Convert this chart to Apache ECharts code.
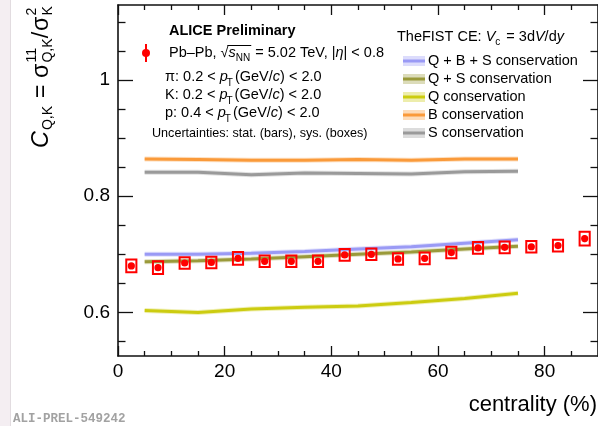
<!DOCTYPE html>
<html>
<head>
<meta charset="utf-8">
<script src="https://cdn.jsdelivr.net/npm/echarts@6/dist/echarts.min.js"></script>
<style>
  html, body { margin: 0; padding: 0; background: #fff; }
  #chart { width: 598px; height: 426px; }
</style>
</head>
<body>
<div id="chart"></div>
<script>
// ---- data ----
const centrality = [2.5, 7.5, 12.5, 17.5, 22.5, 27.5, 32.5, 37.5, 42.5, 47.5, 52.5, 57.5, 62.5, 67.5, 72.5, 77.5, 82.5, 87.5];
const cValues    = [0.680, 0.677, 0.685, 0.686, 0.693, 0.688, 0.688, 0.688, 0.699, 0.700, 0.692, 0.693, 0.703, 0.711, 0.712, 0.713, 0.715, 0.727];
const statErr    = [0.005, 0.005, 0.004, 0.004, 0.004, 0.004, 0.004, 0.004, 0.004, 0.004, 0.004, 0.004, 0.004, 0.004, 0.004, 0.004, 0.005, 0.006];
const sysErr     = [0.011, 0.011, 0.010, 0.010, 0.011, 0.010, 0.010, 0.010, 0.010, 0.010, 0.010, 0.010, 0.010, 0.010, 0.010, 0.010, 0.010, 0.012];

const modelCentrality = [5, 15, 25, 35, 45, 55, 65, 75];
const qbsValues = [0.700, 0.700, 0.702, 0.705, 0.709, 0.713, 0.719, 0.725];
const qsValues  = [0.687, 0.689, 0.692, 0.696, 0.700, 0.704, 0.709, 0.714];
const qValues   = [0.6035, 0.600, 0.606, 0.609, 0.611, 0.617, 0.624, 0.633];
const bValues   = [0.864, 0.863, 0.862, 0.862, 0.863, 0.862, 0.864, 0.864];
const sValues   = [0.841, 0.841, 0.837, 0.840, 0.839, 0.838, 0.842, 0.843];

const modelNames  = ['Q + B + S conservation', 'Q + S conservation', 'Q conservation', 'B conservation', 'S conservation'];
const modelColors = ['#9a9af5', '#9a9a3a', '#cccc10', '#fa9a3a', '#9a9a9a'];
const modelSeries = [qbsValues, qsValues, qValues, bValues, sValues];

const xMajorTicks = [0, 20, 40, 60, 80];
const xMinorTicks = [5, 10, 15, 25, 30, 35, 45, 50, 55, 65, 70, 75, 85];
const yMajorTicks = [0.6, 0.8, 1];
const yMinorTicks = [0.55, 0.65, 0.7, 0.75, 0.85, 0.9, 0.95, 1.05, 1.1];

// ---- text helpers ----
const FONT = '"Liberation Sans", Arial, Helvetica, sans-serif';
const mctx = document.createElement('canvas').getContext('2d');
function fontStr(size, italic, bold) {
  return (italic ? 'italic ' : '') + (bold ? 'bold ' : '') + size + 'px ' + FONT;
}
function textWidth(t, size, italic, bold) {
  mctx.font = fontStr(size, italic, bold);
  return mctx.measureText(t).width;
}
// place a text so that its alphabetic baseline sits at `base`
function textEl(t, x, base, size, italic, bold, color) {
  return {
    type: 'text', x: x, y: base - 0.3465 * size, silent: true,
    style: { text: t, font: fontStr(size, italic, bold), fill: color || '#000', verticalAlign: 'middle', align: 'left' }
  };
}
// lay out a run of text pieces (with sub/superscripts) along a baseline
function layoutRuns(runs, x0, base, color) {
  let x = x0;
  const els = [];
  const marks = [];
  runs.forEach(r => {
    marks.push(x);
    if (r.stack) {
      let w = 0;
      r.stack.forEach(p => {
        els.push(textEl(p.t, x, base + (p.dy || 0), p.s, p.i, p.b, color));
        w = Math.max(w, textWidth(p.t, p.s, p.i, p.b));
      });
      x += w + (r.gap || 0);
    } else {
      els.push(textEl(r.t, x + (r.pre || 0), base + (r.dy || 0), r.s, r.i, r.b, color));
      x += (r.pre || 0) + textWidth(r.t, r.s, r.i, r.b) + (r.gap || 0);
    }
  });
  marks.push(x);
  return { els: els, end: x, marks: marks };
}

// ---- y-axis title: C_{Q,K} = sigma^{11}_{Q,K} / sigma^{2}_{K} ----
function yTitleRuns(F) {
  const S = 0.6 * F;
  const sub = 0.14 * F, sup = -0.55 * F;
  return [
    { t: 'C', s: F, i: true, gap: 0.04 * F },
    { t: 'Q,K', s: S, dy: sub, gap: 0.05 * F },
    { t: ' = ', s: F },
    { t: 'σ', s: F, gap: 0.04 * F },
    { stack: [{ t: '11', s: S, dy: sup }, { t: 'Q,K', s: S, dy: sub }] },
    { t: '/', s: F, gap: 0.04 * F },
    { t: 'σ', s: F, gap: 0.04 * F },
    { stack: [{ t: '2', s: S, dy: sup }, { t: 'K', s: S, dy: sub }] }
  ];
}
const titleLength = 142;
const unitLen = layoutRuns(yTitleRuns(20), 0, 0).end;
const yTitle = layoutRuns(yTitleRuns(20 * titleLength / unitLen), 0, 0);

// ---- ALICE block ----
const LF = 14.5, LS = 10;
const aliceTitle = layoutRuns([{ t: 'ALICE Preliminary', s: LF, b: true }], 169, 36.5);
const systemLine = layoutRuns([
  { t: 'Pb–Pb, ', s: LF },
  { t: '√', s: LF },
  { t: 's', s: LF, i: true },
  { t: 'NN', s: LS, dy: 3.5, gap: 1 },
  { t: ' = 5.02 TeV, |', s: LF },
  { t: 'η', s: LF, i: true },
  { t: '| < 0.8', s: LF }
], 169, 58);
function ptLine(label, lo, base) {
  return layoutRuns([
    { t: label + ': ' + lo + ' < ', s: LF },
    { t: 'p', s: LF, i: true, gap: 0 },
    { t: 'T', s: LS, dy: 5, pre: -1, gap: 2 },
    { t: '(GeV/', s: LF },
    { t: 'c', s: LF, i: true },
    { t: ') < 2.0', s: LF }
  ], 165, base);
}
const piLine = ptLine('π', '0.2', 82);
const kLine = ptLine('K', '0.2', 100);
const pLine = ptLine('p', '0.4', 118);
const uncLine = layoutRuns([{ t: 'Uncertainties: stat. (bars), sys. (boxes)', s: 12.6 }], 152, 137.5);

// ---- model legend ----
const fistTitle = layoutRuns([
  { t: 'TheFIST CE: ', s: LF },
  { t: 'V', s: LF, i: true },
  { t: 'c', s: LS, dy: 3.5, gap: 2 },
  { t: ' = 3d', s: LF },
  { t: 'V', s: LF, i: true },
  { t: '/d', s: LF },
  { t: 'y', s: LF, i: true }
], 397, 42);

const graphics = [];
// left page strip
graphics.push({ type: 'rect', shape: { x: 0, y: 0, width: 10, height: 426 }, style: { fill: '#f4eef2' }, silent: true });
graphics.push({ type: 'line', shape: { x1: 10.5, y1: 0, x2: 10.5, y2: 426 }, style: { stroke: '#e2dce0', lineWidth: 1 }, silent: true });

graphics.push({ type: 'group', x: 50, y: 148, rotation: Math.PI / 2, children: yTitle.els, silent: true });

[aliceTitle, systemLine, piLine, kLine, pLine, uncLine, fistTitle].forEach(b => b.els.forEach(e => graphics.push(e)));

// overline of the square root
{
  const m = systemLine.marks;
  const x1 = m[1] + textWidth('√', LF) * 0.85, x2 = m[4];
  graphics.push({ type: 'line', shape: { x1: x1, y1: 58 - 12.5, x2: x2, y2: 58 - 12.5 }, style: { stroke: '#000', lineWidth: 1 }, silent: true });
}

// data marker in the legend
graphics.push({ type: 'line', shape: { x1: 146, y1: 44, x2: 146, y2: 62 }, style: { stroke: '#ff0000', lineWidth: 2 }, silent: true });
graphics.push({ type: 'circle', shape: { cx: 146, cy: 53, r: 4 }, style: { fill: '#ff0000' }, silent: true });

// model entries
modelNames.forEach((name, i) => {
  const cy = 61 + i * 18;
  graphics.push({ type: 'rect', shape: { x: 403, y: cy - 5, width: 22, height: 10 }, style: { fill: modelColors[i], opacity: 0.35 }, silent: true });
  graphics.push({ type: 'line', shape: { x1: 403, y1: cy, x2: 425, y2: cy }, style: { stroke: modelColors[i], lineWidth: 3 }, silent: true });
  layoutRuns([{ t: name, s: LF }], 428, cy + 5).els.forEach(e => graphics.push(e));
});

// axis title
graphics.push({
  type: 'text', x: 597, y: 413 - 0.3465 * 22, silent: true,
  style: { text: 'centrality (%)', font: fontStr(22), fill: '#000', align: 'right', verticalAlign: 'middle' }
});
// figure id
graphics.push({
  type: 'text', x: 13, y: 418.5, silent: true,
  style: { text: 'ALI-PREL-549242', font: 'bold 12.5px "Liberation Mono", "DejaVu Sans Mono", monospace', fill: '#a2a2a2', align: 'left', verticalAlign: 'middle' }
});

// ---- axes ----
const frame = { color: '#111', width: 1.6 };
const tickStyle = { color: '#111', width: 1.3 };
function xAx(position, major, withLine, withLabel) {
  return {
    type: 'value', min: 0, max: 90, position: position,
    axisLine: { show: withLine, onZero: false, lineStyle: frame },
    axisTick: { show: true, inside: true, length: major ? 10 : 5, customValues: major ? xMajorTicks : xMinorTicks, lineStyle: tickStyle },
    axisLabel: withLabel
      ? { show: true, customValues: xMajorTicks, fontSize: 19, fontFamily: FONT, color: '#000', margin: 6 }
      : { show: false },
    splitLine: { show: false }
  };
}
function yAx(position, major, withLine, withLabel) {
  return {
    type: 'value', min: 0.525, max: 1.129, position: position,
    axisLine: { show: withLine, onZero: false, lineStyle: frame },
    axisTick: { show: true, inside: true, length: major ? 15 : 7.5, customValues: major ? yMajorTicks : yMinorTicks, lineStyle: tickStyle },
    axisLabel: withLabel
      ? { show: true, customValues: yMajorTicks, fontSize: 19, fontFamily: FONT, color: '#000', margin: 8 }
      : { show: false },
    splitLine: { show: false }
  };
}

const series = [];
modelSeries.forEach((vals, i) => {
  const pts = modelCentrality.map((x, k) => [x, vals[k]]);
  series.push({
    type: 'line', data: pts, showSymbol: false, silent: true, z: 2,
    lineStyle: { color: modelColors[i], width: 5, opacity: 0.3 }
  });
  series.push({
    type: 'line', data: pts, showSymbol: false, silent: true, z: 3,
    lineStyle: { color: modelColors[i], width: 3 }
  });
});

series.push({
  type: 'custom', z: 10, silent: true,
  data: centrality.map((x, i) => [x, cValues[i], statErr[i], sysErr[i]]),
  renderItem: function (params, api) {
    const x = api.value(0), y = api.value(1), st = api.value(2), sy = api.value(3);
    const c = api.coord([x, y]);
    const tl = api.coord([x - 0.95, y + sy]);
    const br = api.coord([x + 0.95, y - sy]);
    const s1 = api.coord([x, y + st]);
    const s2 = api.coord([x, y - st]);
    return {
      type: 'group',
      children: [
        { type: 'rect', shape: { x: tl[0], y: tl[1], width: br[0] - tl[0], height: br[1] - tl[1] }, style: { fill: 'none', stroke: '#ff0000', lineWidth: 2 } },
        { type: 'line', shape: { x1: s1[0], y1: s1[1], x2: s2[0], y2: s2[1] }, style: { stroke: '#ff0000', lineWidth: 2 } },
        { type: 'circle', shape: { cx: c[0], cy: c[1], r: 3.6 }, style: { fill: '#ff0000' } }
      ]
    };
  }
});

const chart = echarts.init(document.getElementById('chart'), null, { renderer: 'canvas' });
chart.setOption({
  animation: false,
  backgroundColor: '#fff',
  grid: { left: 118, right: -2, top: 5, bottom: 70, containLabel: false },
  xAxis: [xAx('bottom', true, true, true), xAx('bottom', false, false, false), xAx('top', true, true, false), xAx('top', false, false, false)],
  yAxis: [yAx('left', true, true, true), yAx('left', false, false, false), yAx('right', true, true, false), yAx('right', false, false, false)],
  series: series,
  graphic: graphics
});
</script>
</body>
</html>
